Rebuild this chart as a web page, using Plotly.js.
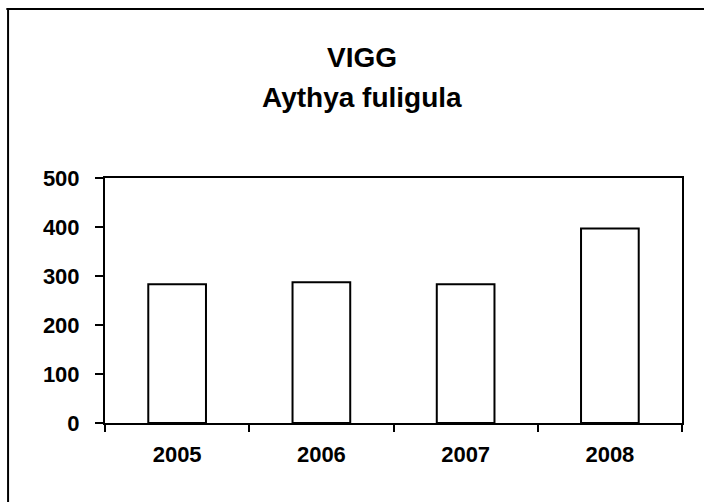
<!DOCTYPE html>
<html>
<head>
<meta charset="utf-8">
<script src="https://cdn.plot.ly/plotly-3.0.1.min.js"></script>
<style>html,body{margin:0;padding:0;background:#fff;}#chart{width:704px;height:502px;}</style>
</head>
<body>
<div id="chart"></div>
<script>
const years = ["2005", "2006", "2007", "2008"];
const counts = [283, 287, 283, 397];
const yTicks = [0, 100, 200, 300, 400, 500];
const titleLines = ["VIGG", "Aythya fuligula"];

const font = "Liberation Sans, Arial, sans-serif";
const trace = {
  type: "bar",
  x: years,
  y: counts,
  marker: {color: "#ffffff", line: {color: "#000000", width: 2}},
  hoverinfo: "x+y"
};
const titleY = [1.49, 1.33];
const layout = {
  width: 704, height: 502,
  margin: {l: 105, r: 22, t: 178, b: 79},
  paper_bgcolor: "#ffffff", plot_bgcolor: "#ffffff",
  showlegend: false,
  bargap: 0.6,
  font: {family: font, color: "#000"},
  annotations: titleLines.map((t, i) => ({
    text: "<b>" + t + "</b>",
    xref: "paper", yref: "paper",
    x: 0.446, y: titleY[i], xanchor: "center", yanchor: "middle",
    showarrow: false,
    font: {family: font, size: 28, color: "#000"}
  })),
  xaxis: {
    type: "category",
    showline: true, linecolor: "#000", linewidth: 2, mirror: true,
    ticks: "outside", tickson: "boundaries", ticklen: 7, tickwidth: 2, tickcolor: "#000",
    ticklabelstandoff: 11,
    tickfont: {family: font, size: 22, color: "#000"},
    showgrid: false, zeroline: false
  },
  yaxis: {
    range: [0, 500],
    tickvals: yTicks,
    ticktext: yTicks.map(v => "<b>" + v + "</b>"),
    showline: true, linecolor: "#000", linewidth: 2, mirror: true,
    ticks: "outside", ticklen: 8, tickwidth: 2, tickcolor: "#000",
    ticklabelstandoff: 11,
    tickfont: {family: font, size: 22, color: "#000"},
    showgrid: false, zeroline: false
  },
  shapes: [
    {type: "line", xref: "paper", yref: "paper", x0: -0.171, x1: 1.05, y0: 1.69, y1: 1.69, line: {color: "#000", width: 2}},
    {type: "line", xref: "paper", yref: "paper", x0: -0.168, x1: -0.168, y0: 1.69, y1: -0.33, line: {color: "#000", width: 2}}
  ]
};
layout.xaxis.ticktext = years.map(y => "<b>" + y + "</b>");
layout.xaxis.tickvals = years;
Plotly.newPlot("chart", [trace], layout, {displayModeBar: false, staticPlot: true});
</script>
</body>
</html>
